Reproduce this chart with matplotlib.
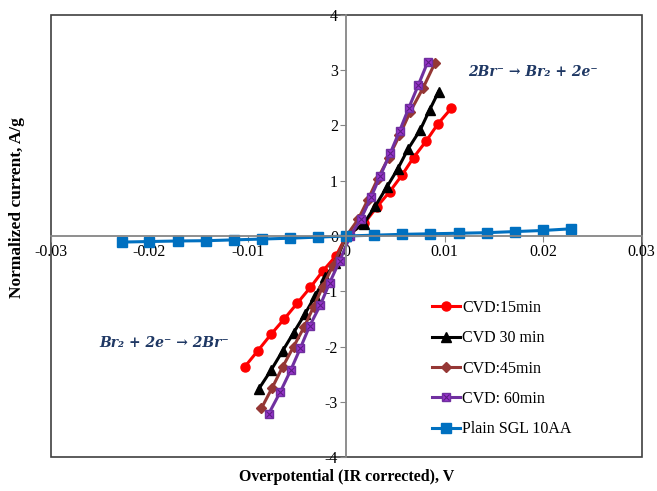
import numpy as np
import matplotlib.pyplot as plt
from matplotlib.patches import Rectangle

plt.rcParams['font.family'] = ['Liberation Serif', 'DejaVu Serif']
plt.rcParams['axes.unicode_minus'] = False

# ---- data ----
x_15 = [-0.01033, -0.0090, -0.00765, -0.0063, -0.0050, -0.00365, -0.00237, -0.00105, 0.0,
        0.00183, 0.00312, 0.0044, 0.00565, 0.00683, 0.00812, 0.00931, 0.01066]
y_15 = [-2.37, -2.08, -1.78, -1.50, -1.22, -0.93, -0.63, -0.36, 0.0,
        0.23, 0.53, 0.80, 1.10, 1.42, 1.72, 2.03, 2.31]

x_30 = [-0.0089, -0.00765, -0.00647, -0.00535, -0.00423, -0.00315, -0.00213, -0.00112, 0.0,
        0.00176, 0.00294, 0.00413, 0.00521, 0.00626, 0.00751, 0.00846, 0.00937]
y_30 = [-2.77, -2.43, -2.08, -1.75, -1.42, -1.08, -0.75, -0.48, 0.0,
        0.22, 0.54, 0.89, 1.21, 1.57, 1.92, 2.28, 2.61]

x_45 = [-0.00863, -0.00754, -0.00647, -0.00535, -0.00426, -0.00332, -0.0024, -0.0014, 0.0,
        0.0012, 0.0022, 0.0032, 0.0043, 0.0054, 0.0065, 0.0078, 0.0090]
y_45 = [-3.12, -2.75, -2.37, -2.00, -1.64, -1.28, -0.92, -0.55, 0.0,
        0.30, 0.66, 1.04, 1.42, 1.82, 2.25, 2.68, 3.13]

x_60 = [-0.00789, -0.0067, -0.00565, -0.00467, -0.00373, -0.00264, -0.0017, -0.00068, 0.0004,
        0.00149, 0.00251, 0.00345, 0.00447, 0.00541, 0.00633, 0.00731, 0.00825]
y_60 = [-3.22, -2.82, -2.43, -2.03, -1.63, -1.25, -0.85, -0.45, 0.0,
        0.31, 0.70, 1.09, 1.50, 1.90, 2.31, 2.73, 3.14]

x_sgl = [-0.0228, -0.0200, -0.0171, -0.01425, -0.0114, -0.00855, -0.0057, -0.00285, 0.0,
         0.00285, 0.0057, 0.00855, 0.0114, 0.01425, 0.0171, 0.0200, 0.0228]
y_sgl = [-0.11, -0.10, -0.09, -0.085, -0.07, -0.055, -0.04, -0.02, 0.0,
         0.015, 0.03, 0.04, 0.05, 0.06, 0.08, 0.10, 0.13]

names = ['CVD:15min', 'CVD 30 min', 'CVD:45min', 'CVD: 60min', 'Plain SGL 10AA']

fig = plt.figure(figsize=(6.57, 4.91), dpi=100)
ax = fig.add_axes([0.0776, 0.0692, 0.899, 0.9003])

lw = 2.2
p1, = ax.plot(x_15, y_15, '-o', color='#FF0000', lw=lw, ms=6.5)
p2, = ax.plot(x_30, y_30, '-^', color='black', lw=lw, ms=7)
p3, = ax.plot(x_45, y_45, '-D', color='#953735', lw=lw, ms=5)
p4, = ax.plot(x_60, y_60, '-s', color='#7030A0', mfc='#9933CC', mec='#7030A0', lw=lw, ms=6)
p4x, = ax.plot(x_60, y_60, 'x', color='#5B1F82', ms=4, mew=0.8)
p5, = ax.plot(x_sgl, y_sgl, '-s', color='#0070C0', lw=lw, ms=6.5)

ax.set_xlim(-0.03, 0.03)
ax.set_ylim(-4, 4)
ax.set_xticks([-0.03, -0.02, -0.01, 0, 0.01, 0.02, 0.03])
ax.set_xticklabels(['-0.03', '-0.02', '-0.01', '0', '0.01', '0.02', '0.03'])
ax.set_yticks([-4, -3, -2, -1, 0, 1, 2, 3, 4])

for s in ['left', 'bottom']:
    ax.spines[s].set_position('zero')
    ax.spines[s].set_color('#868686')
    ax.spines[s].set_linewidth(1.3)
ax.spines['top'].set_visible(False)
ax.spines['right'].set_visible(False)
ax.add_patch(Rectangle((0, 0), 1, 1, transform=ax.transAxes, fill=False,
                       ec='#404040', lw=1.2, clip_on=False, zorder=0.5))
ax.tick_params(axis='both', direction='out', length=4, color='#868686',
               labelsize=11.5, pad=2)

ax.text(0.5, -0.045, 'Overpotential (IR corrected), V', transform=ax.transAxes,
        ha='center', va='center', fontsize=11.5, fontweight='bold')
fig.text(0.026, 0.578, 'Normalized current, A/g', rotation=90,
         ha='center', va='center', fontsize=12.5, fontweight='bold')

ax.text(0.019, 2.97, '2Br\u207b \u2192 Br\u2082 + 2e\u207b', ha='center', va='center',
        fontsize=10, fontweight='bold', fontstyle='italic', color='#1F3864',
        family=['DejaVu Serif'])
ax.text(-0.0185, -1.93, 'Br\u2082 + 2e\u207b \u2192 2Br\u207b', ha='center', va='center',
        fontsize=10, fontweight='bold', fontstyle='italic', color='#1F3864',
        family=['DejaVu Serif'])

ax.legend(handles=[p1, p2, p3, (p4, p4x), p5], labels=names,
          loc='upper left', bbox_to_anchor=(0.62, 0.388), frameon=False,
          fontsize=11.5, labelspacing=0.9, handlelength=1.8, handletextpad=0.1)

fig.savefig('out.png', dpi=100)
